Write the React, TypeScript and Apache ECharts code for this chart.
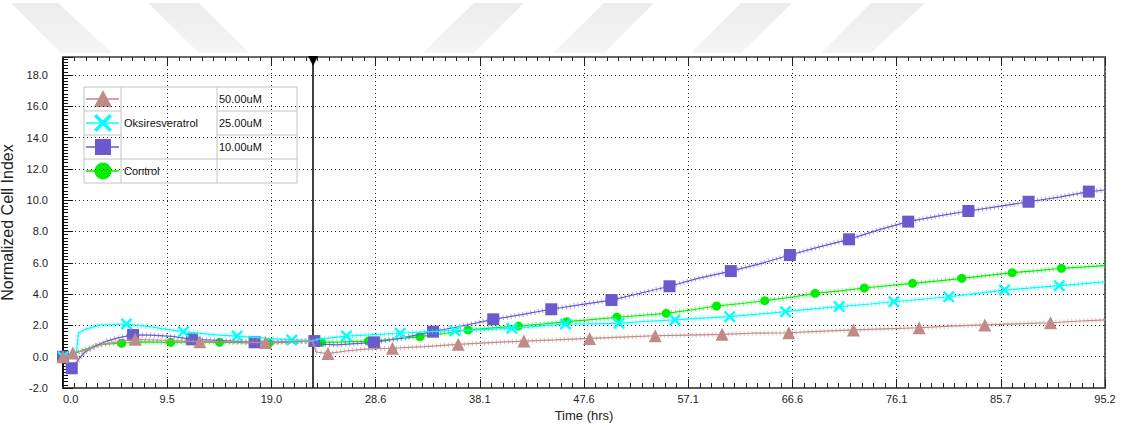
import React, { useEffect, useRef } from 'react';
import * as echarts from 'echarts';

// ---------- axis / labels ----------
const xTickLabels = ['0.0', '9.5', '19.0', '28.6', '38.1', '47.6', '57.1', '66.6', '76.1', '85.7', '95.2'];
const xMax = 95.18;
const xInterval = 9.518;
const yMin = -2;
const yMax = 19.15;
const yInterval = 2;
const xName = 'Time (hrs)';
const yName = 'Normalized Cell Index';
const drugName = 'Oksiresveratrol';
const concLabels = ['50.00uM', '25.00uM', '10.00uM'];
const controlLabel = 'Control';
const normalizeTime = 22.84;

// ---------- 50 uM (brown) ----------
const line50: number[][] = [
  [0, 0], [0.9, 0.24], [2, 0.4], [3.4, 0.75], [5, 0.95], [6.6, 1.11], [9, 1.05], [12.5, 0.96], [15, 0.95],
  [18.5, 0.9], [20.5, 0.95], [22.8, 1.0], [23.1, 0.3], [24.2, 0.2], [26, 0.38], [27.7, 0.49], [30.1, 0.54],
  [33, 0.65], [36.1, 0.79], [39, 0.9], [42.1, 1.0], [45, 1.08], [48.1, 1.17], [51, 1.25], [54.1, 1.34],
  [57, 1.38], [60.2, 1.43], [63, 1.5], [66.3, 1.53], [69, 1.62], [72.2, 1.71], [75, 1.78], [78.2, 1.85],
  [81, 1.95], [84.2, 2.03], [87, 2.1], [90.2, 2.17], [93, 2.28], [95.2, 2.35],
];
const marks50: number[][] = [
  [0, 0], [0.9, 0.24], [6.6, 1.11], [12.5, 0.96], [18.5, 0.9], [24.2, 0.2], [30.1, 0.54], [36.1, 0.79],
  [42.1, 1.0], [48.1, 1.17], [54.1, 1.34], [60.2, 1.43], [66.3, 1.53], [72.2, 1.71], [78.2, 1.85],
  [84.2, 2.03], [90.2, 2.17],
];

// ---------- 25 uM (cyan) ----------
const line25: number[][] = [
  [0, 0], [0.5, 0.05], [1.2, 0.1], [1.4, 1.5], [2, 1.75], [3.4, 2.03], [4.5, 2.05], [5.8, 2.09], [7.9, 1.92],
  [9.5, 1.75], [11, 1.6], [14, 1.39], [15.9, 1.32], [18.6, 1.17], [20.9, 1.07], [22.8, 1.0], [23.3, 1.12],
  [24, 1.17], [25.9, 1.32], [28, 1.4], [30.8, 1.5], [33, 1.58], [35.8, 1.66], [38, 1.72], [41, 1.81],
  [43.5, 1.95], [45.9, 2.09], [48, 2.1], [50.8, 2.13], [53, 2.25], [55.9, 2.35], [58, 2.45], [60.9, 2.56],
  [63.5, 2.72], [66, 2.88], [68.5, 3.05], [70.9, 3.2], [73.5, 3.35], [75.9, 3.51], [78.5, 3.67],
  [80.9, 3.83], [83.5, 4.05], [86, 4.26], [88.5, 4.4], [91, 4.54], [93, 4.65], [95.2, 4.79],
];
const marks25: number[][] = [
  [0, 0], [5.8, 2.09], [11, 1.6], [15.9, 1.32], [20.9, 1.07], [25.9, 1.32], [30.8, 1.5], [35.8, 1.66],
  [41, 1.81], [45.9, 2.09], [50.8, 2.13], [55.9, 2.35], [60.9, 2.56], [66, 2.88], [70.9, 3.2], [75.9, 3.51],
  [80.9, 3.83], [86, 4.26], [91, 4.54],
];

// ---------- 10 uM (slate blue) ----------
const line10: number[][] = [
  [0, 0], [0.8, -0.74], [1.5, -0.1], [2, 0.3], [3, 0.7], [4, 1.0], [5, 1.2], [6.4, 1.39], [8, 1.38],
  [10, 1.3], [11.8, 1.11], [14, 1.05], [17.5, 0.92], [20, 0.95], [22.8, 1.0], [23.5, 0.8], [25, 0.75],
  [28.4, 0.92], [31, 1.2], [33.8, 1.6], [36, 1.9], [39.3, 2.39], [42, 2.7], [44.6, 3.03], [47, 3.3],
  [50.1, 3.62], [53, 4.1], [55.4, 4.5], [58, 5.0], [61, 5.47], [64, 6.0], [66.4, 6.5], [69, 7.0],
  [71.8, 7.5], [74.5, 8.1], [77.2, 8.63], [80, 9.0], [82.7, 9.31], [85.5, 9.6], [88.2, 9.9], [91, 10.2],
  [93.7, 10.55], [95.2, 10.65],
];
const marks10: number[][] = [
  [0, 0], [0.8, -0.74], [6.4, 1.39], [11.8, 1.11], [17.5, 0.92], [22.96, 1.0], [28.4, 0.92], [33.8, 1.6],
  [39.3, 2.39], [44.6, 3.03], [50.1, 3.62], [55.4, 4.5], [61.0, 5.47], [66.4, 6.5], [71.8, 7.5],
  [77.2, 8.63], [82.7, 9.31], [88.2, 9.9], [93.7, 10.55],
];

// ---------- Control (green) ----------
const lineCtrl: number[][] = [
  [0, 0], [0.5, 0.05], [1, 0.2], [1.86, 0.43], [3.4, 0.79], [5.36, 0.86], [7, 0.95], [9.84, 0.92], [12, 0.95],
  [14.3, 0.92], [16.5, 0.9], [18.8, 0.86], [20.5, 0.95], [22.8, 1.0], [23.6, 0.92], [25.5, 0.95], [27.9, 1.0],
  [30, 1.1], [32.6, 1.28], [35, 1.5], [37.0, 1.71], [39, 1.82], [41.6, 1.96], [44, 2.1], [46.0, 2.24],
  [48, 2.35], [50.6, 2.52], [53, 2.65], [55.1, 2.77], [57.5, 3.0], [59.7, 3.24], [62, 3.4], [64.1, 3.58],
  [66.5, 3.8], [68.7, 4.05], [71, 4.2], [73.2, 4.39], [75.5, 4.55], [77.6, 4.69], [80, 4.85], [82.1, 5.01],
  [84.5, 5.2], [86.7, 5.37], [89, 5.5], [91.2, 5.65], [93, 5.72], [95.2, 5.82],
];
const marksCtrl: number[][] = [
  [0, 0], [5.36, 0.86], [9.84, 0.92], [14.3, 0.92], [18.8, 0.86], [23.6, 0.92], [27.9, 1.0], [32.6, 1.28],
  [37.0, 1.71], [41.6, 1.96], [46.0, 2.24], [50.6, 2.52], [55.1, 2.77], [59.7, 3.24], [64.1, 3.58],
  [68.7, 4.05], [73.2, 4.39], [77.6, 4.69], [82.1, 5.01], [86.7, 5.37], [91.2, 5.65],
];

// ---------- styling ----------
const FONT = '"Liberation Sans", Arial, sans-serif';
const C50 = '#c08a88';
const C25 = '#00ffff';
const C10 = '#6a5acd';
const CCTRL = '#00ee00';
const X_PATH = 'path://M-5,-3.6L-3.6,-5L0,-1.4L3.6,-5L5,-3.6L1.4,0L5,3.6L3.6,5L0,1.4L-3.6,5L-5,3.6L-1.4,0Z';

function xPoly(cx: number, cy: number, s: number, t: number): number[][] {
  return [
    [-s, -s + t], [-s + t, -s], [0, -t], [s - t, -s], [s, -s + t], [t, 0],
    [s, s - t], [s - t, s], [0, t], [-s + t, s], [-s, s - t], [-t, 0],
  ].map(([a, b]) => [cx + a, cy + b]);
}

function seriesPair(name: string, line: number[][], marks: number[][], color: string, symbol: string, size: number, z: number) {
  return [
    {
      name: name + '-hatch', type: 'line', data: line, showSymbol: false, symbol: 'none', silent: true, z,
      lineStyle: { color, width: 5, type: [1, 3], cap: 'butt', opacity: 0.55 },
    },
    {
      name: name + '-line', type: 'line', data: line, showSymbol: false, symbol: 'none', silent: true, z,
      lineStyle: { color, width: 1.2 },
    },
    {
      name: name + '-marks', type: 'scatter', data: marks, symbol, symbolSize: size, silent: true, z: z + 1,
      itemStyle: { color, opacity: 1 },
    },
  ];
}

function buildOption() {
  const gridLeft = 63, gridTop = 57, gridRight = 25, gridBottom = 39;
  const legendX = 84, legendY = 87, colA = 121, colB = 217, legendR = 297, rowH = 24;
  const rowsY = [0, 1, 2, 3].map((i) => legendY + rowH * i + rowH / 2);
  const symX = (legendX + colA) / 2 + 0.5;
  const textStyle = { fontFamily: FONT, fontSize: 11, fill: '#111' };

  const watermark = [
    [[11, 3], [58, 3], [112, 53], [61, 53]],
    [[148, 3], [199, 3], [249, 53], [199, 53]],
    [[474, 3], [524, 3], [474, 53], [423, 53]],
    [[604, 3], [654, 3], [604, 53], [553, 53]],
    [[741, 3], [792, 3], [741, 53], [691, 53]],
    [[871, 3], [925, 3], [871, 53], [821, 53]],
  ].map((pts) => ({
    type: 'polygon', z: -10, silent: true, shape: { points: pts },
    style: {
      fill: new echarts.graphic.LinearGradient(0, 0, 0, 1, [
        { offset: 0, color: '#ececec' },
        { offset: 1, color: '#f5f5f5' },
      ]),
    },
  }));

  const legendLine = (y: number, color: string) => ({
    type: 'line', shape: { x1: legendX + 2, y1: y, x2: colA - 2, y2: y }, style: { stroke: color, lineWidth: 1.5 },
  });

  const legend = {
    type: 'group', z: 100,
    children: [
      { type: 'rect', shape: { x: legendX, y: legendY, width: legendR - legendX, height: rowH * 4 }, style: { fill: '#fff', stroke: '#c4c4c4', lineWidth: 1 } },
      { type: 'line', shape: { x1: colA, y1: legendY, x2: colA, y2: legendY + rowH * 4 }, style: { stroke: '#c4c4c4' } },
      { type: 'line', shape: { x1: colB, y1: legendY, x2: colB, y2: legendY + rowH * 4 }, style: { stroke: '#c4c4c4' } },
      ...[1, 2].flatMap((i) => [
        { type: 'line', shape: { x1: legendX, y1: legendY + rowH * i, x2: colA, y2: legendY + rowH * i }, style: { stroke: '#c4c4c4' } },
        { type: 'line', shape: { x1: colB, y1: legendY + rowH * i, x2: legendR, y2: legendY + rowH * i }, style: { stroke: '#c4c4c4' } },
      ]),
      { type: 'line', shape: { x1: legendX, y1: legendY + rowH * 3, x2: legendR, y2: legendY + rowH * 3 }, style: { stroke: '#c4c4c4' } },
      // row symbols
      legendLine(rowsY[0], C50),
      { type: 'polygon', shape: { points: [[symX, rowsY[0] - 9], [symX + 9, rowsY[0] + 8], [symX - 9, rowsY[0] + 8]] }, style: { fill: C50 } },
      legendLine(rowsY[1], C25),
      { type: 'polygon', shape: { points: xPoly(symX, rowsY[1], 9, 2.4) }, style: { fill: C25 } },
      legendLine(rowsY[2], C10),
      { type: 'rect', shape: { x: symX - 8, y: rowsY[2] - 8, width: 16, height: 16 }, style: { fill: C10 } },
      legendLine(rowsY[3], CCTRL),
      { type: 'circle', shape: { cx: symX, cy: rowsY[3], r: 8.5 }, style: { fill: CCTRL } },
      // texts
      { type: 'text', x: colA + 3, y: rowsY[1], style: { ...textStyle, text: drugName, verticalAlign: 'middle' } },
      { type: 'text', x: colA + 3, y: rowsY[3], style: { ...textStyle, text: controlLabel, verticalAlign: 'middle' } },
      ...concLabels.map((c, i) => ({ type: 'text', x: colB + 2, y: rowsY[i], style: { ...textStyle, text: c, verticalAlign: 'middle' } })),
    ],
  };

  const axisCommonX = {
    type: 'value', min: 0, max: xMax, interval: xInterval,
  };

  return {
    animation: false,
    backgroundColor: '#fff',
    grid: {
      left: gridLeft, top: gridTop, right: gridRight, bottom: gridBottom,
      outerBoundsMode: 'none', containLabel: false,
      show: true, borderColor: '#6a6a6a', borderWidth: 2, backgroundColor: '#fff',
    },
    xAxis: [
      {
        ...axisCommonX, position: 'bottom',
        axisLine: { show: true, onZero: false, lineStyle: { color: '#5a5a5a', width: 2 } },
        axisTick: { show: true, inside: true, length: 9, lineStyle: { color: '#222' } },
        minorTick: { show: true, splitNumber: 9, length: 5, lineStyle: { color: '#222' } },
        axisLabel: {
          formatter: (v: number) => xTickLabels[Math.round(v / xInterval)] ?? '',
          color: '#222', fontSize: 11, fontFamily: FONT, margin: 5, alignMinLabel: 'left',
        },
        splitLine: { show: true, lineStyle: { color: '#222', type: [1, 3], width: 1 } },
        name: xName, nameLocation: 'middle', nameGap: 17,
        nameTextStyle: { color: '#222', fontSize: 13, fontFamily: FONT },
      },
      {
        ...axisCommonX, position: 'top',
        axisLine: { show: true, onZero: false, lineStyle: { color: '#6a6a6a', width: 2 } },
        axisTick: { show: true, inside: true, length: 8, lineStyle: { color: '#222' } },
        minorTick: { show: true, splitNumber: 9, length: 4, lineStyle: { color: '#222' } },
        axisLabel: { show: false },
        splitLine: { show: false },
      },
    ],
    yAxis: [
      {
        type: 'value', min: yMin, max: yMax, interval: yInterval, position: 'left',
        axisLine: { show: true, onZero: false, lineStyle: { color: '#111', width: 2 } },
        axisTick: { show: true, inside: true, length: 10, lineStyle: { color: '#111' } },
        minorTick: { show: true, splitNumber: 10, length: 5, lineStyle: { color: '#111' } },
        axisLabel: {
          formatter: (v: number) => (Math.abs(v / yInterval - Math.round(v / yInterval)) < 1e-6 ? v.toFixed(1) : ''),
          color: '#222', fontSize: 11, fontFamily: FONT, margin: 15,
        },
        splitLine: { show: true, lineStyle: { color: '#222', type: [1, 3], width: 1 } },
        name: yName, nameLocation: 'middle', nameGap: 40,
        nameTextStyle: { color: '#222', fontSize: 16, fontFamily: FONT },
      },
    ],
    graphic: [...watermark, legend],
    series: [
      {
        name: 'normalize', type: 'line', data: [], z: 1, silent: true,
        markLine: {
          silent: true, symbol: ['none', 'none'], label: { show: false },
          lineStyle: { color: '#000', width: 1.5, type: 'solid' },
          data: [{ xAxis: normalizeTime }],
        },
        markPoint: {
          silent: true, label: { show: false },
          data: [{ coord: [normalizeTime, yMax], symbol: 'triangle', symbolRotate: 180, symbolSize: [10, 10], symbolOffset: [0, 4], itemStyle: { color: '#000' } }],
        },
      },
      ...seriesPair('ctrl', lineCtrl, marksCtrl, CCTRL, 'circle', 9, 2),
      ...seriesPair('10uM', line10, marks10, C10, 'rect', 12, 4),
      ...seriesPair('25uM', line25, marks25, C25, X_PATH, 12, 6),
      ...seriesPair('50uM', line50, marks50, C50, 'triangle', 13, 8),
    ],
  };
}

export default function App() {
  const ref = useRef<HTMLDivElement>(null);
  useEffect(() => {
    if (!ref.current) return;
    const chart = echarts.init(ref.current, null, { renderer: 'svg' });
    chart.setOption(buildOption() as any);
    return () => chart.dispose();
  }, []);
  return (
    <div
      ref={ref}
      style={{ position: 'absolute', left: 0, top: 0, width: 1130, height: 427, background: '#fff' }}
    />
  );
}
